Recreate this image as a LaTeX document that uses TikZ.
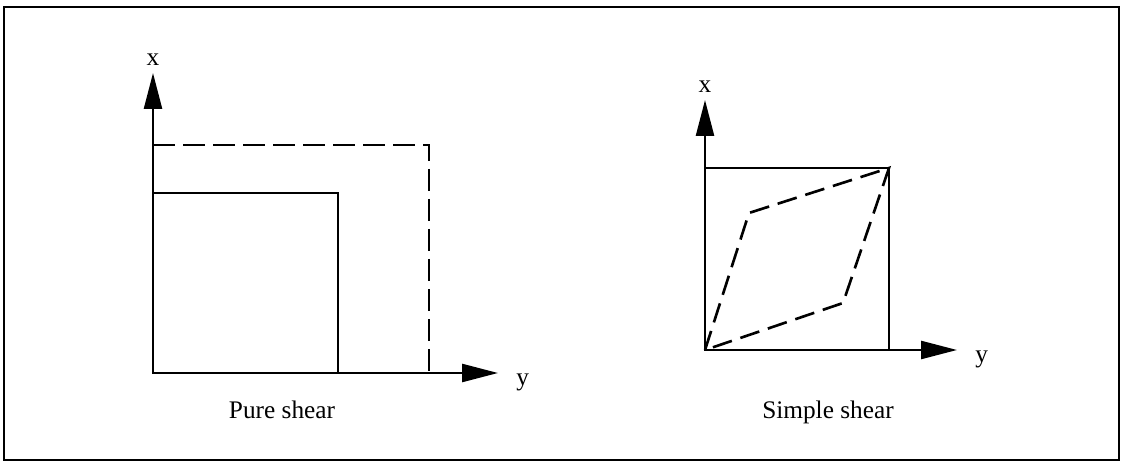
\documentclass[tikz,border=0pt]{standalone}
\usepackage{fontspec}
\setmainfont{Liberation Serif}
\usepackage{tikz}
\usetikzlibrary{arrows.meta,positioning,calc}

\begin{document}
\begin{tikzpicture}[
    axis/.style={line width=1.4pt,-{Triangle[length=0.72cm,width=0.36cm]}},
    solidline/.style={line width=1.4pt},
    dashline/.style={line width=1.5pt,dash pattern=on 0.44cm off 0.16cm},
    lbl/.style={font=\fontsize{14.4}{17}\selectfont,inner sep=0pt},
]
    \useasboundingbox (0,0) rectangle (22.46,9.24);
    \draw[line width=1.2pt] (0.08,0.04) rectangle (22.38,9.1);

    % pure shear
    \coordinate (po) at (3.06,1.78);
    \coordinate (px) at (3.06,7.78);
    \coordinate (py) at (9.96,1.78);
    \coordinate (psq) at (6.76,5.38);
    \coordinate (pdsq) at (8.58,6.34);
    \draw[solidline] (po) rectangle (psq);
    \draw[dashline] (po |- pdsq) -- (pdsq) -- (pdsq |- po);
    \draw[axis] (po) -- (px);
    \draw[axis] (po) -- (py);
    \node[lbl,anchor=south] (pxl) at ($(px)+(0,0.14)$) {x};
    \node[lbl,anchor=base west] (pyl) at ($(py)+(0.36,-0.26)$) {y};
    \node[lbl] (pure) at (5.64,1.04) {Pure shear};

    % simple shear
    \coordinate (so) at (14.10,2.24);
    \coordinate (sx) at (14.10,7.24);
    \coordinate (sy) at (19.14,2.24);
    \coordinate (ssq) at (17.78,5.88);
    \coordinate (sa) at (14.98,4.98);
    \coordinate (sb) at (16.86,3.18);
    \draw[solidline] (so) rectangle (ssq);
    \draw[dashline,dash pattern=on 0.4cm off 0.18cm] (so) -- (sa) -- (ssq) -- (sb) -- cycle;
    \draw[axis] (so) -- (sx);
    \draw[axis] (so) -- (sy);
    \node[lbl,anchor=south] (sxl) at ($(sx)+(0,0.14)$) {x};
    \node[lbl,anchor=base west] (syl) at ($(sy)+(0.36,-0.26)$) {y};
    \node[lbl] (simple) at (16.56,1.0) {Simple shear};
\end{tikzpicture}
\end{document}
